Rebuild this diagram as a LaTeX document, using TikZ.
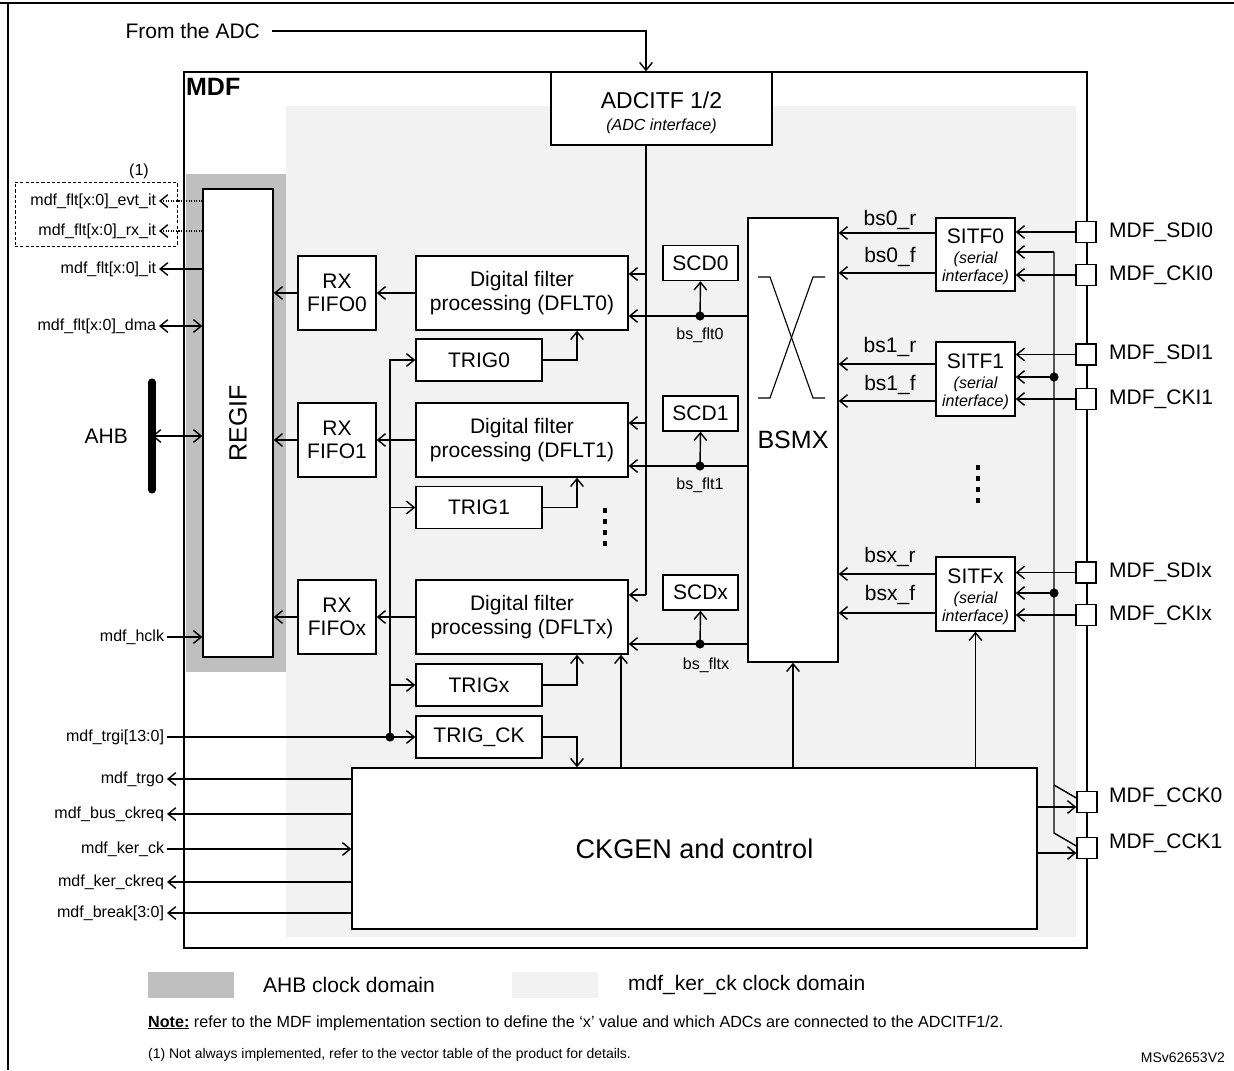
\documentclass[tikz,border=0pt]{standalone}
\usepackage{fontspec}
\setmainfont{Liberation Sans}
\usetikzlibrary{arrows.meta}
\definecolor{ahbgray}{HTML}{BFBFBF}
\definecolor{kergray}{HTML}{F2F2F2}
\newcommand\fmain{\fontsize{29.9}{33}\selectfont}
\newcommand\fsm{\fontsize{22.8}{26}\selectfont}
\newcommand\fadc{\fontsize{32.7}{38}\selectfont}
\newcommand\fbig{\fontsize{35.6}{42}\selectfont}
\newcommand\fck{\fontsize{38.5}{44}\selectfont}
\newcommand\fnote{\fontsize{19.9}{24}\selectfont}
\tikzset{>={Straight Barb[length=11pt,width=18pt]},
  wire/.style={line width=2pt},
  sig/.style={line width=2pt,->},
  dsig/.style={line width=2pt,<->},
  sz/.style 2 args={minimum width=#1*0.05cm,minimum height=#2*0.05cm},
  blk/.style={draw,fill=white,line width=2pt,inner sep=0pt,font=\fmain},
  pad/.style={blk,sz={20}{21}},
  txt/.style={inner sep=0pt,font=\fmain},
  lbl/.style={inner xsep=4pt,inner ysep=0pt,font=\fsm}}

\begin{document}
\begin{tikzpicture}[x=0.05cm,y=-0.05cm]
\path[use as bounding box] (0,0) rectangle (1234,1070);
\draw[line width=4pt] (0,3) -- (1234,3);
\draw[line width=3pt] (8,3) -- (8,1070);
\fill[ahbgray] (186,174) rectangle (286,672);
\fill[kergray] (286,106) rectangle (1076,937);
\node[draw,line width=2pt,sz={903}{876}] (mdf) at (635.5,510) {};
\node[anchor=north west,inner sep=0pt,font=\bfseries\fbig] (mdfname) at (186,78) {MDF};

\node[txt,anchor=east,inner xsep=17pt] (fromadc) at (272,31) {From the ADC};
\node[blk,sz={221}{73}] (adcitf) at (661.5,108.5) {};
\node[txt,font=\fadc] (adcitft) at (661.5,100) {ADCITF 1/2};
\node[txt,font=\fsm\itshape] (adcitfs) at (661.5,126) {(ADC interface)};
\coordinate (adcx) at (646,0);
\draw[sig] (fromadc.east) -| (adcx |- adcitf.north);

\node[draw,line width=1.4pt,dash pattern=on 4.5pt off 3pt,sz={162}{64}] (optbox) at (96,214) {};
\node[lbl] (optnote) at (139,171) {(1)};
\node[lbl,anchor=east] (evt) at (159,201) {mdf\_flt[x:0]\_evt\_it};
\node[lbl,anchor=east] (rxit) at (159,231) {mdf\_flt[x:0]\_rx\_it};
\node[lbl,anchor=east] (fltit) at (159,269) {mdf\_flt[x:0]\_it};
\node[lbl,anchor=east] (dma) at (159,326) {mdf\_flt[x:0]\_dma};
\node[lbl,anchor=east] (hclk) at (167,637) {mdf\_hclk};
\node[txt,anchor=east] (ahb) at (128,436) {AHB};
\draw[line width=10pt,line cap=round] (152,382) -- (152,490);
\coordinate (ahbbar) at (152,436);

\node[blk,sz={70}{468}] (regif) at (238,423) {};
\node[txt,font=\fbig,rotate=90] (regift) at (238,423) {REGIF};
\draw[sig,dash pattern=on 1.6pt off 2pt] (regif.west |- evt) -- (evt.east);
\draw[sig,dash pattern=on 1.6pt off 2pt] (regif.west |- rxit) -- (rxit.east);
\draw[sig] (regif.west |- fltit) -- (fltit.east);
\draw[dsig] (dma.east) -- (regif.west |- dma);
\draw[dsig] (ahbbar) -- (regif.west |- ahbbar);
\draw[sig] (hclk.east) -- (regif.west |- hclk);

\node[blk,sz={78}{74},align=center] (fifo0) at (337,293) {RX\\FIFO0};
\node[blk,sz={78}{74},align=center] (fifo1) at (337,440) {RX\\FIFO1};
\node[blk,sz={78}{74},align=center] (fifox) at (337,617) {RX\\FIFOx};
\node[blk,sz={212}{74},align=center] (dflt0) at (522,293) {Digital filter\\processing (DFLT0)};
\node[blk,sz={212}{74},align=center] (dflt1) at (522,440) {Digital filter\\processing (DFLT1)};
\node[blk,sz={212}{74},align=center] (dfltx) at (522,617) {Digital filter\\processing (DFLTx)};
\node[blk,sz={126}{42}] (trig0) at (479,360) {TRIG0};
\node[blk,sz={126}{42}] (trig1) at (479,507.5) {TRIG1};
\node[blk,sz={126}{42}] (trigx) at (479,685) {TRIGx};
\node[blk,sz={126}{42}] (trigck) at (479,737) {TRIG\_CK};
\foreach \k in {0,...,3} \fill (603,508+\k*11) rectangle ++(4,5);

\draw[sig] (fifo0.west) -- (regif.east |- fifo0.west);
\draw[sig] (fifo1.west) -- (regif.east |- fifo1.west);
\draw[sig] (fifox.west) -- (regif.east |- fifox.west);
\draw[sig] (dflt0.west) -- (fifo0.east);
\draw[sig] (dflt1.west) -- (fifo1.east);
\draw[sig] (dfltx.west) -- (fifox.east);

\coordinate (tx) at (577,0);
\draw[sig] (trig0.east) -| (tx |- dflt0.south);
\draw[sig] (trig1.east) -| (tx |- dflt1.south);
\draw[sig] (trigx.east) -| (tx |- dfltx.south);

\node[blk,sz={685}{161},font=\fck] (ckgen) at (694.5,848.5) {CKGEN and control};
\draw[sig] (trigck.east) -| (tx |- ckgen.north);

\node[lbl,anchor=east] (trgi) at (167,737) {mdf\_trgi[13:0]};
\node[lbl,anchor=east] (trgo) at (167,779) {mdf\_trgo};
\node[lbl,anchor=east] (busreq) at (167,814) {mdf\_bus\_ckreq};
\node[lbl,anchor=east] (kerck) at (167,849) {mdf\_ker\_ck};
\node[lbl,anchor=east] (kerreq) at (167,882) {mdf\_ker\_ckreq};
\node[lbl,anchor=east] (brk) at (167,913) {mdf\_break[3:0]};
\coordinate (tb) at (390,737);
\draw[wire] (trgi.east) -- (tb);
\draw[sig] (tb) -- (trigck.west);
\draw[sig] (tb) |- (trig0.west);
\draw[sig] (tb |- trig1.west) -- (trig1.west);
\draw[sig] (tb |- trigx.west) -- (trigx.west);
\fill (tb) circle[radius=6.5pt];
\draw[sig] (ckgen.west |- trgo) -- (trgo.east);
\draw[sig] (ckgen.west |- busreq) -- (busreq.east);
\draw[sig] (kerck.east) -- (ckgen.west |- kerck);
\draw[sig] (ckgen.west |- kerreq) -- (kerreq.east);
\draw[sig] (ckgen.west |- brk) -- (brk.east);

\coordinate (a0) at (646,274);
\coordinate (a1) at (646,423);
\coordinate (ax) at (646,595);
\draw[wire] (adcx |- adcitf.south) -- (ax);
\draw[sig] (a0) -- (dflt0.east |- a0);
\draw[sig] (a1) -- (dflt1.east |- a1);
\draw[sig] (ax) -- (dfltx.east |- ax);

\node[blk,sz={90}{444},font=\fbig] (bsmx) at (793,440) {BSMX};
\draw[line width=1.6pt] (758,277) -- (770,277) -- (813,398) -- (825,398);
\draw[line width=1.6pt] (825,277) -- (813,277) -- (770,398) -- (758,398);
\node[blk,sz={75}{35}] (scd0) at (700.5,263) {SCD0};
\node[blk,sz={75}{35}] (scd1) at (700.5,413.5) {SCD1};
\node[blk,sz={75}{35}] (scdx) at (700.5,592.5) {SCDx};
\coordinate (f0) at (700,316);
\coordinate (f1) at (700,466);
\coordinate (fx) at (700,644);
\draw[sig] (bsmx.west |- f0) -- (dflt0.east |- f0);
\draw[sig] (bsmx.west |- f1) -- (dflt1.east |- f1);
\draw[sig] (bsmx.west |- fx) -- (dfltx.east |- fx);
\draw[sig] (f0) -- (scd0.south);
\draw[sig] (f1) -- (scd1.south);
\draw[sig] (fx) -- (scdx.south);
\fill (f0) circle[radius=6.5pt];
\fill (f1) circle[radius=6.5pt];
\fill (fx) circle[radius=6.5pt];
\node[lbl] (bsf0) at (700,335) {bs\_flt0};
\node[lbl] (bsf1) at (700,485) {bs\_flt1};
\node[lbl] (bsfx) at (706,665) {bs\_fltx};

\node[blk,sz={79}{73}] (sitf0) at (975.5,254.5) {};
\node[blk,sz={79}{74}] (sitf1) at (975.5,379) {};
\node[blk,sz={79}{74}] (sitfx) at (975.5,594) {};
\node[txt] (sitf0t) at (975.5,236) {SITF0};
\node[txt] (sitf1t) at (975.5,361) {SITF1};
\node[txt] (sitfxt) at (975.5,576) {SITFx};
\node[txt,font=\fsm\itshape,align=center] (sitf0s) at (975.5,268) {(serial\\interface)};
\node[txt,font=\fsm\itshape,align=center] (sitf1s) at (975.5,393) {(serial\\interface)};
\node[txt,font=\fsm\itshape,align=center] (sitfxs) at (975.5,608) {(serial\\interface)};
\foreach \k in {0,...,3} \fill (976,465+\k*11) rectangle ++(4,5);

\draw[sig] (sitf0.west |- 0,233) -- (bsmx.east |- 0,233);
\draw[sig] (sitf0.west |- 0,273) -- (bsmx.east |- 0,273);
\draw[sig] (sitf1.west |- 0,364) -- (bsmx.east |- 0,364);
\draw[sig] (sitf1.west |- 0,401) -- (bsmx.east |- 0,401);
\draw[sig] (sitfx.west |- 0,574) -- (bsmx.east |- 0,574);
\draw[sig] (sitfx.west |- 0,613) -- (bsmx.east |- 0,613);
\node[txt] (bs0r) at (890,220) {bs0\_r};
\node[txt] (bs0f) at (890,257) {bs0\_f};
\node[txt] (bs1r) at (890,347) {bs1\_r};
\node[txt] (bs1f) at (890,385) {bs1\_f};
\node[txt] (bsxr) at (890,557) {bsx\_r};
\node[txt] (bsxf) at (890,595) {bsx\_f};

\node[pad] (sdi0) at (1086,232) {};
\node[pad] (cki0) at (1086,275) {};
\node[pad] (sdi1) at (1086,354.5) {};
\node[pad] (cki1) at (1086,399) {};
\node[pad] (sdix) at (1086,572.5) {};
\node[pad] (ckix) at (1086,615) {};
\node[pad] (cck0) at (1087,802) {};
\node[pad] (cck1) at (1087,848) {};
\node[txt,anchor=west] (sdi0l) at (1109,232) {MDF\_SDI0};
\node[txt,anchor=west] (cki0l) at (1109,275) {MDF\_CKI0};
\node[txt,anchor=west] (sdi1l) at (1109,354.5) {MDF\_SDI1};
\node[txt,anchor=west] (cki1l) at (1109,399) {MDF\_CKI1};
\node[txt,anchor=west] (sdixl) at (1109,572.5) {MDF\_SDIx};
\node[txt,anchor=west] (ckixl) at (1109,615) {MDF\_CKIx};
\node[txt,anchor=west] (cck0l) at (1109,797) {MDF\_CCK0};
\node[txt,anchor=west] (cck1l) at (1109,843) {MDF\_CCK1};
\draw[sig] (sdi0.west) -- (sitf0.east |- sdi0.west);
\draw[sig] (cki0.west) -- (sitf0.east |- cki0.west);
\draw[sig] (sdi1.west) -- (sitf1.east |- sdi1.west);
\draw[sig] (cki1.west) -- (sitf1.east |- cki1.west);
\draw[sig] (sdix.west) -- (sitfx.east |- sdix.west);
\draw[sig] (ckix.west) -- (sitfx.east |- ckix.west);

\coordinate (cb) at (1054,252);
\coordinate (cb1) at (1054,377);
\coordinate (cbx) at (1054,593);
\coordinate (cbc0) at (1054,785);
\coordinate (cbc1) at (1054,833);
\draw[sig] (cb) -- (sitf0.east |- cb);
\draw[wire] (cb) -- (cbc1) -- (cck1.west |- 0,846);
\draw[wire] (cbc0) -- (cck0.west |- 0,798);
\draw[sig] (cb1) -- (sitf1.east |- cb1);
\draw[sig] (cbx) -- (sitfx.east |- cbx);
\fill (cb1) circle[radius=6.5pt];
\fill (cbx) circle[radius=6.5pt];
\draw[sig] (ckgen.east |- 0,807) -- (cck0.west |- 0,807);
\draw[sig] (ckgen.east |- 0,853) -- (cck1.west |- 0,853);

\coordinate (u1) at (621,0);
\draw[sig] (u1 |- ckgen.north) -- (u1 |- dfltx.south);
\draw[sig] (bsmx.south |- ckgen.north) -- (bsmx.south);
\draw[sig] (sitfx.south |- ckgen.north) -- (sitfx.south);

\fill[ahbgray] (148,972) rectangle (234,998);
\node[txt,anchor=west] (ahbdom) at (263,985) {AHB clock domain};
\fill[kergray] (512,972) rectangle (598,998);
\node[txt,anchor=west] (kerdom) at (628,985) {mdf\_ker\_ck clock domain};
\node[anchor=west,inner sep=0pt,font=\fontsize{23}{27}\selectfont] (note) at (148,1023) {\underline{\textbf{Note:}} refer to the MDF implementation section to define the ‘x’ value and which ADCs are connected to the ADCITF1/2.};
\node[anchor=west,inner sep=0pt,font=\fnote] (fnote) at (148,1055) {(1) Not always implemented, refer to the vector table of the product for details.};
\node[anchor=east,inner sep=0pt,font=\fnote] (docref) at (1225,1058) {MSv62653V2};
\end{tikzpicture}
\end{document}
